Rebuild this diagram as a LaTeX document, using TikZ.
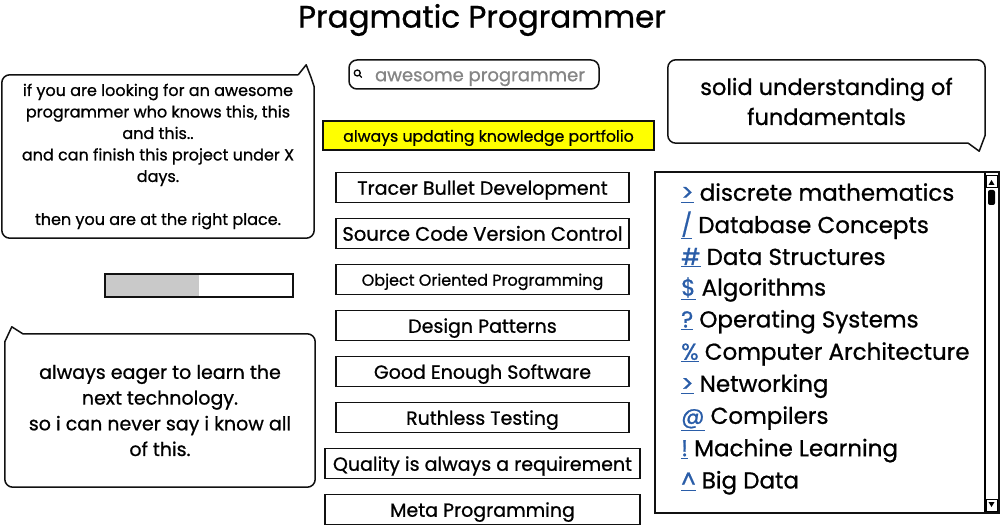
\documentclass[tikz,border=0pt]{standalone}
\usepackage{fontspec}
\setmainfont{Poppins}[FakeBold=0.8]
\usepackage{xcolor}
\usetikzlibrary{positioning,calc}
\definecolor{Ink}{HTML}{111111}
\definecolor{LinkBlue}{HTML}{2A5DA8}
\definecolor{Hint}{HTML}{858585}
\definecolor{Marker}{HTML}{FFFF00}
\definecolor{BarFill}{HTML}{C9C9C9}
\newcommand{\lnk}[1]{{\color{LinkBlue}\underline{#1}}}
\tikzset{
  pill/.style={
    draw=Ink, line width=1.5pt, minimum width=293pt, minimum height=30pt,
    inner sep=0pt, outer sep=0pt, font=\fontsize{19}{21}\selectfont,
    text height=14.5pt, text depth=0pt
  },
  pillSmall/.style={pill,text height=12.5pt},
  pillWide/.style={pill,minimum width=315pt},
  bubble/.style={draw=Ink,line width=1.5pt,line join=round},
  bubbleText/.style={inner sep=0pt,align=center},
  topic/.style={anchor=west,inner sep=0pt,font=\fontsize{23}{25}\selectfont}
}

\begin{document}
\begin{tikzpicture}[x=1pt,y=-1pt,node distance=16pt]
  \useasboundingbox[fill=white] (0,0) rectangle (1000,526);
  \node[font=\fontsize{31}{35}\selectfont] (title) at (482,20) {Pragmatic Programmer};

  % speech bubbles
  \node[bubbleText,minimum width=312pt,minimum height=163pt,
        font=\fontsize{16}{21.5}\selectfont] (pitch) at (158,156.5)
    {if you are looking for an awesome\\programmer who knows this, this\\and this..\\and can finish this project under X\\days.\\[21.5pt]then you are at the right place.};
  \draw[bubble] ([xshift=-16pt]pitch.north east) -- ([xshift=-8pt,yshift=10pt]pitch.north east)
    -- ([xshift=-3pt,yshift=-3pt]pitch.north east) -- ([yshift=-12pt]pitch.north east)
    [rounded corners=8pt] -- (pitch.south east) -- (pitch.south west) -- (pitch.north west)
    -- ([xshift=-16pt]pitch.north east);

  \node[bubbleText,minimum width=317pt,minimum height=83pt,
        font=\fontsize{22.5}{30}\selectfont] (basics) at (826.5,101.5)
    {solid understanding of\\fundamentals};
  \draw[bubble] ([yshift=8pt]basics.south east) -- ([xshift=-6pt,yshift=-8pt]basics.south east)
    -- ([xshift=-17pt]basics.south east)
    [rounded corners=8pt] -- (basics.south west) -- (basics.north west) -- (basics.north east)
    -- ([yshift=8pt]basics.south east);

  \node[bubbleText,minimum width=310pt,minimum height=153pt,
        font=\fontsize{19}{25.7}\selectfont] (eager) at (160,410.5)
    {always eager to learn the\\next technology.\\so i can never say i know all\\of this.};
  \draw[bubble] ([yshift=-8pt]eager.north west) -- ([xshift=7pt,yshift=7pt]eager.north west)
    -- ([xshift=18pt]eager.north west)
    [rounded corners=8pt] -- (eager.north east) -- (eager.south east) -- (eager.south west)
    -- ([yshift=-8pt]eager.north west);

  % search field and progress
  \node[draw=Ink,line width=1.5pt,rounded corners=8pt,minimum width=250pt,minimum height=29pt,
        inner sep=0pt,text=Hint,font=\fontsize{18}{20}\selectfont,
        text height=13.5pt,text depth=0pt] (search) at (474,74.5)
    {\hspace*{12pt}awesome programmer};
  \draw[line width=1.3pt] ([xshift=9pt,yshift=1.5pt]search.west) circle (3pt)
    ([xshift=11pt,yshift=-0.5pt]search.west) -- ([xshift=13.5pt,yshift=-3pt]search.west);
  \node[draw=Ink,line width=1.5pt,minimum width=188pt,minimum height=23pt,inner sep=0pt,
        path picture={\fill[BarFill] (path picture bounding box.south west)
          rectangle ([xshift=94pt]path picture bounding box.north west);}] (progress) at (199,285.5) {};

  % practices
  \node[pillSmall,fill=Marker,minimum width=331pt,minimum height=29pt,
        font=\fontsize{15.7}{18}\selectfont] (portfolio) at (488.5,135.5) {always updating knowledge portfolio};
  \node[pill] (tracer) at (482.5,187.5) {Tracer Bullet Development};
  \node[pill,below=of tracer,font=\fontsize{19.5}{21}\selectfont] (vcs) {Source Code Version Control};
  \node[pillSmall,below=of vcs,font=\fontsize{16}{18}\selectfont] (oop) {Object Oriented Programming};
  \node[pill,below=of oop] (patterns) {Design Patterns};
  \node[pill,below=of patterns] (enough) {Good Enough Software};
  \node[pill,below=of enough] (testing) {Ruthless Testing};
  \node[pillWide,below=of testing] (quality) {Quality is always a requirement};
  \node[pillWide,below=of quality] (meta) {Meta Programming};

  % fundamentals list
  \node[draw=Ink,line width=1.5pt,minimum width=344pt,minimum height=341pt] (topics) at (827,342.5) {};
  \foreach \sym/\txt [count=\i] in {>/discrete mathematics,{/}/Database Concepts,\#/Data Structures,
      \$/Algorithms,?/Operating Systems,\%/Computer Architecture,>/Networking,@/Compilers,
      !/Machine Learning,\textasciicircum/Big Data}
    \node[topic] (topic\i) at (681,{193+32.2*(\i-1)}) {\lnk{\sym} \txt};
  % scrollbar
  \draw[line width=1.2pt] (985,173) -- (985,512);
  \draw[line width=1pt] (986,176) rectangle (997,188) (986,499) rectangle (997,511);
  \fill (988.5,185) -- (994.5,185) -- (991.5,180) -- cycle;
  \fill (988.5,502) -- (994.5,502) -- (991.5,507) -- cycle;
  \fill[rounded corners=2pt] (988,190) rectangle (995,205);
\end{tikzpicture}
\end{document}
